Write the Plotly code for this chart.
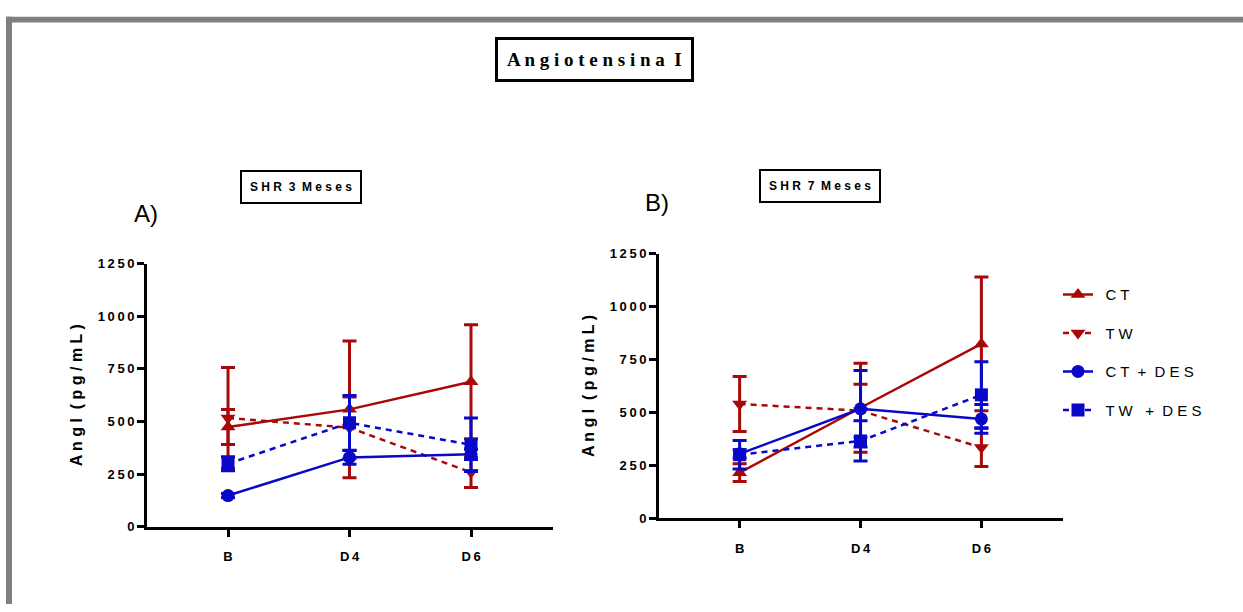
import plotly.graph_objects as go

W, H = 1243, 612

categories = ["B", "D4", "D6"]
cat_pos = [0, 1, 2]
tick_labels = ["B", "D\u20094", "D\u20096"]
y_ticks = [0, 250, 500, 750, 1000, 1250]
y_tick_labels = ["0", "2\u20095\u20090", "5\u20090\u20090", "7\u20095\u20090",
                 "1\u20090\u20090\u20090", "1\u20092\u20095\u20090"]

series_names = ["\u2002C T", "\u2002T W", "\u2002C T  +  D E S", "\u2002T W   +  D E S"]

# Panel A: SHR 3 months
ct_a = [474, 558, 689]
ct_a_err = [83, 324, 270]
tw_a = [517, 471, 259]
tw_a_err = [240, 146, 72]
ctdes_a = [149, 330, 345]
ctdes_a_err = [10, 33, 25]
twdes_a = [300, 494, 390]
twdes_a_err = [33, 130, 127]

# Panel B: SHR 7 months
ct_b = [215, 522, 824]
ct_b_err = [42, 210, 316]
tw_b = [540, 508, 334]
tw_b_err = [130, 125, 90]
ctdes_b = [304, 517, 469]
ctdes_b_err = [20, 181, 68]
twdes_b = [300, 365, 583]
twdes_b_err = [67, 95, 156]

RED = "#A80808"
BLUE = "#0808C8"
styles = [
    dict(color=RED, dash="solid", symbol="triangle-up"),
    dict(color=RED, dash="6px,5px", symbol="triangle-down"),
    dict(color=BLUE, dash="solid", symbol="circle"),
    dict(color=BLUE, dash="6px,5px", symbol="square"),
]

fig = go.Figure()

def add_panel(vals, errs, xa, ya, show):
    for i, (v, e) in enumerate(zip(vals, errs)):
        st = styles[i]
        fig.add_trace(go.Scatter(
            x=cat_pos, y=v, mode="lines+markers",
            name=series_names[i], legendgroup=f"g{i}", showlegend=show,
            xaxis=xa, yaxis=ya,
            line=dict(color=st["color"], width=2.5, dash=st["dash"]),
            marker=dict(symbol=st["symbol"], size=13, color=st["color"]),
            error_y=dict(type="data", array=e, visible=True, color=st["color"],
                         thickness=3, width=7),
        ))

add_panel([ct_a, tw_a, ctdes_a, twdes_a], [ct_a_err, tw_a_err, ctdes_a_err, twdes_a_err], "x", "y", False)
add_panel([ct_b, tw_b, ctdes_b, twdes_b], [ct_b_err, tw_b_err, ctdes_b_err, twdes_b_err], "x2", "y2", True)

def px(x):
    return x / W

def py(y):
    return 1 - y / H

tick_font = dict(family="Liberation Sans", size=13, color="black", weight="bold")
axis_common = dict(showline=True, linecolor="black", linewidth=2.8, ticks="outside",
                   tickwidth=2.5, tickcolor="black", showgrid=False, zeroline=False,
                   tickfont=tick_font)
xr = [-0.667, 2.675]

ytitle = dict(text="A n g I  ( p g / m L )",
              font=dict(family="Liberation Sans", size=16, color="black", weight="bold"),
              standoff=12)

fig.update_layout(
    width=W, height=H,
    margin=dict(l=0, r=0, t=0, b=0),
    paper_bgcolor="white", plot_bgcolor="white",
    xaxis=dict(domain=[px(147), px(553)], range=xr, tickvals=cat_pos, ticktext=tick_labels,
               ticklen=7, ticklabelstandoff=9, anchor="y", **axis_common),
    yaxis=dict(domain=[py(533), py(263)], range=[0, 1250], tickvals=y_ticks,
               ticktext=y_tick_labels, ticklen=7, anchor="x", title=ytitle, **axis_common),
    xaxis2=dict(domain=[px(659), px(1063)], range=xr, tickvals=cat_pos, ticktext=tick_labels,
                ticklen=7, ticklabelstandoff=9, anchor="y2", **axis_common),
    yaxis2=dict(domain=[py(524), py(253)], range=[0, 1250], tickvals=y_ticks,
                ticktext=y_tick_labels, ticklen=7, anchor="x2", title=ytitle, **axis_common),
    legend=dict(x=px(1058), y=py(278), xanchor="left", yanchor="top",
                font=dict(family="Liberation Sans", size=15, color="black"),
                tracegroupgap=16, bgcolor="rgba(0,0,0,0)"),
    showlegend=True,
)

# gray frame
fig.add_shape(type="rect", xref="paper", yref="paper", x0=px(6), x1=1.0, y0=py(16), y1=py(10),
              fillcolor="#808080", line=dict(width=0), layer="below")
fig.add_shape(type="rect", xref="paper", yref="paper", x0=px(6), x1=px(12), y0=0, y1=py(10),
              fillcolor="#808080", line=dict(width=0), layer="below")

# main title box
fig.add_annotation(xref="paper", yref="paper", x=px(594), y=py(54),
                   xanchor="center", yanchor="middle",
                   text="<b>A n g i o t e n s i n a  I</b>", showarrow=False,
                   font=dict(family="Liberation Serif", size=19, color="black"),
                   bordercolor="black", borderwidth=3, borderpad=9, bgcolor="white")

# subtitle boxes
for cx, cy, txt in [(301, 185, "S H R  3  M e s e s"), (820, 183, "S H R  7  M e s e s")]:
    fig.add_annotation(xref="paper", yref="paper", x=px(cx), y=py(cy),
                       xanchor="center", yanchor="middle",
                       text=f"<b>{txt}</b>", showarrow=False,
                       font=dict(family="Liberation Sans", size=12, color="black"),
                       bordercolor="black", borderwidth=2, borderpad=8, bgcolor="white")

fig.add_annotation(xref="paper", yref="paper", x=px(146), y=py(212), text="A)",
                   xanchor="center", yanchor="middle",
                   showarrow=False, font=dict(family="Liberation Sans", size=24, color="black"))
fig.add_annotation(xref="paper", yref="paper", x=px(657), y=py(200), text="B)",
                   xanchor="center", yanchor="middle",
                   showarrow=False, font=dict(family="Liberation Sans", size=24, color="black"))

fig.write_html("out.html")
